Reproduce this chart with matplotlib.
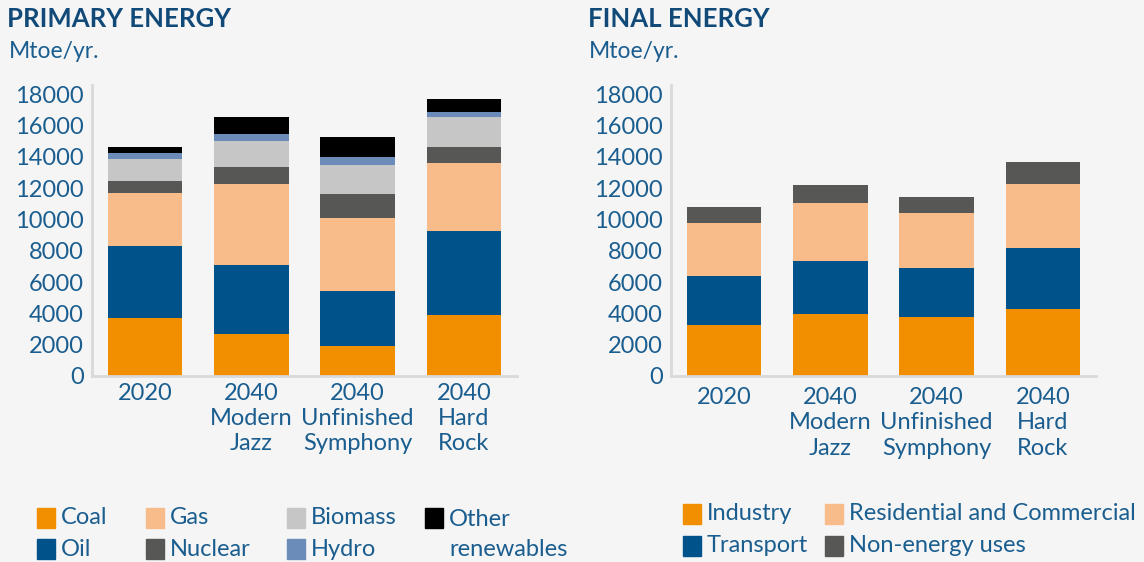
import matplotlib.pyplot as plt
from matplotlib.patches import Rectangle
import numpy as np

plt.rcParams['font.family'] = ['Lato', 'DejaVu Sans']

scenarios = ['2020', '2040\nModern\nJazz', '2040\nUnfinished\nSymphony', '2040\nHard\nRock']

# primary energy, Mtoe/yr
primary_labels = ['Coal', 'Oil', 'Gas', 'Nuclear', 'Biomass', 'Hydro', 'Other\nrenewables']
coal = [3700, 2700, 1930, 3900]
oil = [4600, 4370, 3530, 5340]
gas = [3400, 5200, 4630, 4370]
nuclear = [770, 1100, 1540, 1030]
biomass = [1400, 1670, 1860, 1930]
hydro = [380, 450, 510, 320]
other_ren = [390, 1090, 1290, 840]

# final energy, Mtoe/yr
final_labels = ['Industry', 'Transport', 'Residential and Commercial', 'Non-energy uses']
industry = [3280, 3990, 3790, 4310]
transport = [3090, 3340, 3090, 3860]
residential = [3400, 3730, 3540, 4110]
non_energy = [1030, 1160, 1030, 1410]

primary_colors = ['#f28f00', '#00538a', '#f8bb8a', '#575756', '#c6c6c6', '#6b8cb8', '#000000']
final_colors = ['#f28f00', '#00538a', '#f8bb8a', '#575756']

bg = '#f5f5f5'
blue = '#1a5d8f'
title_blue = '#114a78'

fig = plt.figure(figsize=(11.44, 5.62), dpi=100, facecolor=bg)


def stacked(ax, series, colors, pad):
    x = np.arange(len(scenarios))
    bottom = np.zeros(len(scenarios))
    for vals, c in zip(series, colors):
        ax.bar(x, vals, 0.7, bottom=bottom, color=c, zorder=2)
        bottom += np.array(vals)
    ax.set_facecolor(bg)
    ax.set_xlim(-0.5, 3.5)
    ax.set_ylim(0, 18600)
    ax.set_yticks(range(0, 18001, 2000))
    ax.set_xticks(x)
    ax.set_xticklabels(scenarios, linespacing=1.25)
    ax.tick_params(length=0, labelsize=17, colors=blue)
    ax.tick_params(axis='x', pad=pad)
    ax.tick_params(axis='y', pad=6)
    for s in ['top', 'right']:
        ax.spines[s].set_visible(False)
    for s in ['left', 'bottom']:
        ax.spines[s].set_color('#d9d9d9')
        ax.spines[s].set_linewidth(2)


ax1 = fig.add_axes([92 / 1144, 1 - 376 / 562, 425 / 1144, 291 / 562])
stacked(ax1, [coal, oil, gas, nuclear, biomass, hydro, other_ren], primary_colors, 5)
ax2 = fig.add_axes([671 / 1144, 1 - 376 / 562, 425 / 1144, 291 / 562])
stacked(ax2, [industry, transport, residential, non_energy], final_colors, 8)

fig.text(7 / 1144, 1 - 19 / 562, 'PRIMARY ENERGY', fontsize=18.5, fontweight='bold',
         color=title_blue, va='center')
fig.text(588 / 1144, 1 - 19 / 562, 'FINAL ENERGY', fontsize=18.5, fontweight='bold',
         color=title_blue, va='center')
fig.text(9 / 1144, 1 - 51 / 562, 'Mtoe/yr.', fontsize=16.5, color=blue, va='center')
fig.text(589 / 1144, 1 - 51 / 562, 'Mtoe/yr.', fontsize=16.5, color=blue, va='center')


def legend(labels, colors, xs, ys):
    for i, (lab, c) in enumerate(zip(labels, colors)):
        col, row = i // 2, i % 2
        x, y = xs[col], ys[row]
        fig.patches.append(Rectangle((x / 1144, 1 - (y + 10) / 562), 18 / 1144, 20 / 562,
                                     transform=fig.transFigure, color=c))
        if '\n' in lab:
            fig.text((x + 24) / 1144, 1 - (y - 9) / 562, lab, fontsize=17, color=blue,
                     va='top', linespacing=1.55)
        else:
            fig.text((x + 24) / 1144, 1 - y / 562, lab, fontsize=17, color=blue,
                     va='center')


legend(primary_labels, primary_colors, [37, 146, 287, 425], [518, 549])
legend(final_labels[:2], final_colors[:2], [683], [514, 546])
legend(final_labels[2:], final_colors[2:], [825], [514, 546])

fig.savefig('out.png', dpi=100, facecolor=bg)
